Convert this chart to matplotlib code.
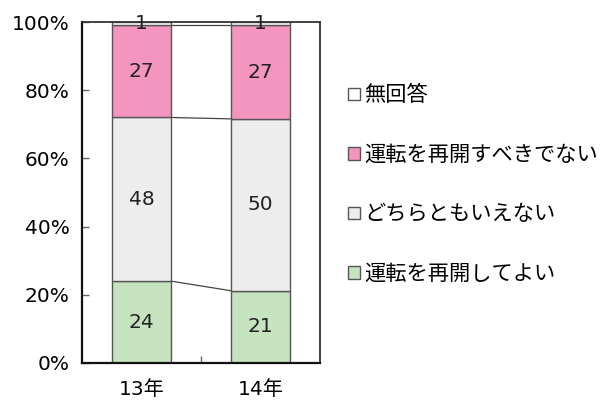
import matplotlib
matplotlib.use("Agg")
import matplotlib.pyplot as plt
import numpy as np

plt.rcParams['font.family'] = ['DejaVu Sans', 'Noto Sans CJK JP']

years = ['13年', '14年']
series = ['運転を再開してよい', 'どちらともいえない', '運転を再開すべきでない', '無回答']
values = {
    '運転を再開してよい': [24.0, 21.2],
    'どちらともいえない': [48.0, 50.4],
    '運転を再開すべきでない': [27.0, 27.4],
    '無回答': [1.0, 1.0],
}
colors = ['#c6e3bf', '#ededed', '#f495c0', '#ffffff']
yticks = [0, 20, 40, 60, 80, 100]

fig = plt.figure(figsize=(6.1, 4.04), dpi=100)
ax = fig.add_axes([0.1344, 0.1015, 0.3902, 0.844])

x = np.arange(len(years))
width = 0.5
bottom = np.zeros(len(years))
handles = []
tops = []
for name, col in zip(series, colors):
    v = np.array(values[name])
    b = ax.bar(x, v, width, bottom=bottom, color=col, edgecolor='#555555',
               linewidth=1.0, zorder=2)
    handles.append(b)
    for xi, vi, bi in zip(x, v, bottom):
        ax.text(xi, bi + vi / 2, f'{vi:.0f}', ha='center', va='center',
                fontsize=14.5, color='#222222', zorder=3)
    bottom = bottom + v
    tops.append(bottom.copy())

# series lines between bars
for t in tops[:-1]:
    ax.plot([x[0] + width / 2, x[1] - width / 2], [t[0], t[1]],
            color='#444444', linewidth=0.9, zorder=1)

ax.set_xlim(-0.5, 1.5)
ax.set_ylim(0, 100)
ax.set_yticks(yticks)
ax.set_yticklabels([f'{t}%' for t in yticks])
ax.set_xticks(x)
ax.set_xticklabels(years)
ax.set_xticks([0.5], minor=True)
ax.tick_params(axis='x', which='major', length=0, labelsize=14.5, pad=12)
ax.tick_params(axis='x', which='minor', direction='in', length=5,
               width=1, color='#666666')
ax.tick_params(axis='y', direction='in', length=5, width=1, color='#666666',
               labelsize=14.5, pad=9)
for s in ['left', 'bottom']:
    ax.spines[s].set_linewidth(1.6)
    ax.spines[s].set_color('#111111')
for s in ['top', 'right']:
    ax.spines[s].set_linewidth(1.3)
    ax.spines[s].set_color('#333333')

leg = fig.legend(handles[::-1], series[::-1], loc='center left',
                 bbox_to_anchor=(0.557, 0.543), frameon=False, fontsize=15.3,
                 handlelength=0.55, handleheight=0.55, handletextpad=0.2,
                 labelspacing=1.86, borderaxespad=0)

fig.savefig('out.png', dpi=100)
